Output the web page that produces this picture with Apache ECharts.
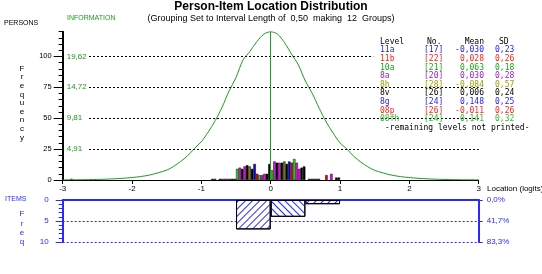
<!DOCTYPE html>
<html><head><meta charset="utf-8">
<script src="https://cdn.jsdelivr.net/npm/echarts@6/dist/echarts.min.js"></script>
<style>html,body{margin:0;padding:0;background:#fff}#c{width:542px;height:274px}</style>
</head><body><div id="c"></div>
<script>
// ---- data ----
const intervalStarts = ['-3','-2.5','-2','-1.5','-1','-0.5','0','0.5','1','1.5','2','2.5'];
const barColors = ['#00ff00','#ff00ff','#000000','#ff00ff','#000000','#808000','#000000','#0000ff','#ff0000','#00ff00','#ff00ff','#ff00ff','#000000','#000000'];
// person frequency: rows = intervals, cols = class levels (14 bars per interval)
const personFreq = [
  [0,0,0,1,0,0,0,0,0,0,0,0,0,0],
  [0,0,0,0,0,0,0,0,0,0,0,0,0,0],
  [0,0,0,0,0,0,0,0,0,0,0,0,0,0],
  [0,0,0,0,0,0,0,0,0,0,0,0,0,0],
  [0,0,0,0,1,1,0,1,1,1,1,1,1,1],
  [9,10,9,11,12,11,9,13,5,4,4,5,5,13],
  [8,15,14,14,14,15,13,15,14,17,14,9,10,11],
  [0,1,1,1,1,1,0,0,4,0,5,0,2,2],
  [0,0,0,0,0,0,0,0,0,0,0,0,0,0],
  [0,0,0,0,0,0,0,0,0,0,0,0,0,0],
  [0,0,0,0,0,0,0,0,0,0,0,0,0,0],
  [0,0,0,0,0,0,0,0,0,0,0,0,0,0]
];
const itemFreq = [0,0,0,0,0,7,4,1,0,0,0,0];
const infoX = [-3,-2.75,-2.5,-2.25,-2,-1.75,-1.5,-1.4,-1.3,-1.2,-1.1,-1,-0.9,-0.8,-0.7,-0.6,-0.5,-0.4,-0.3,-0.2,-0.1,0,0.1,0.2,0.3,0.4,0.5,0.6,0.7,0.8,0.9,1,1.1,1.2,1.3,1.4,1.5,1.75,2,2.25,2.5,2.75,3];
const infoVals = [0.02,0.04,0.09,0.20,0.39,0.78,1.57,2.16,2.94,3.83,5.00,6.08,7.65,9.42,11.58,14.13,16.28,19.03,20.4,21.97,23.15,23.54,23.15,21.8,20.0,18.25,15.70,13.73,11.38,9.22,7.46,5.89,4.91,3.73,2.85,2.10,1.53,0.76,0.38,0.19,0.09,0.04,0.02];
const freqTicks = [0,25,50,75,100];
const infoTicks = [4.91,9.81,14.72,19.62];
const itemTicks = [0,5,10];
const pctLabels = ['0,0%','41,7%','83,3%'];
const levelNames = ['11a','11b','10a','8a','8h','8v','8g','08p','08fh'];
const levelNo = [17,22,21,20,28,26,24,26,24];
const levelMean = [-0.030,0.028,0.063,0.030,-0.084,0.006,0.148,-0.011,0.141];
const levelSD = [0.23,0.26,0.18,0.28,0.57,0.24,0.25,0.26,0.32];
const levelTextColors = ['#1a1aff','#ff2020','#10b010','#a020c0','#a0a000','#000000','#1a1aff','#ff2020','#30c030'];

// ---- chart ----
const freqMax = 120;
const infoMax = infoTicks[3] * freqMax / 100;
const comma = (v, d) => v.toFixed(d).replace('.', ',');
const GREEN = '#1f9a1f';
const BLUE = '#2a2aff';
const mono = 'DejaVu Sans Mono';
const sans = 'Liberation Sans';

const series = [];
for (let l = 0; l < barColors.length; l++) {
  series.push({
    type: 'bar', xAxisIndex: 1, yAxisIndex: 0,
    barGap: '0%', barCategoryGap: '0%', silent: true,
    itemStyle: { color: barColors[l], borderColor: '#000', borderWidth: 0.5 },
    data: personFreq.map(r => r[l] === 0 ? '-' : r[l])
  });
}
const dash = { color: '#000', width: 1, type: [2, 2] };
series.push({
  type: 'line', xAxisIndex: 0, yAxisIndex: 2, smooth: 0.3, symbol: 'none', silent: true,
  lineStyle: { color: GREEN, width: 1 },
  data: infoX.map((x, i) => [x, infoVals[i]]),
  markLine: {
    symbol: 'none', silent: true, label: { show: false }, animation: false,
    data: [
      [{ coord: [-2.62, infoTicks[0]], lineStyle: dash }, { coord: [3, infoTicks[0]] }],
      [{ coord: [-2.62, infoTicks[1]], lineStyle: dash }, { coord: [3, infoTicks[1]] }],
      [{ coord: [-2.62, infoTicks[2]], lineStyle: dash }, { coord: [3, infoTicks[2]] }],
      [{ coord: [-2.62, infoTicks[3]], lineStyle: dash }, { coord: [1.48, infoTicks[3]] }],
      [{ coord: [0, 0], lineStyle: { color: GREEN, width: 1, type: 'solid' } }, { coord: [0, infoMax] }]
    ]
  }
});
const hatch = (rot) => ({ symbol: 'rect', symbolSize: 1, dashArrayX: [1, 0], dashArrayY: [1, 3.5], rotation: rot, color: BLUE });
const hatchRot = [-Math.PI / 4, Math.PI / 4];
let k = 0;
series.push({
  type: 'bar', xAxisIndex: 3, yAxisIndex: 3, barCategoryGap: '0%', silent: true,
  data: itemFreq.map(v => {
    if (v === 0) return '-';
    const r = hatchRot[(k++) % 2];
    return { value: v, itemStyle: { color: '#fff', borderColor: '#000', borderWidth: 1, decal: hatch(r) } };
  })
});

const graphics = [];
const txt = (x, y, text, o) => graphics.push({ type: 'text', x, y, silent: true, z: 100,
  style: Object.assign({ text, fill: '#000', font: '8px ' + sans, textAlign: 'left', textVerticalAlign: 'middle' }, o) });
txt(271, 7, 'Person-Item Location Distribution', { textAlign: 'center', font: 'bold 12px ' + sans });
txt(271, 19, '(Grouping Set to Interval Length of  0,50  making  12  Groups)', { textAlign: 'center', font: '9px ' + sans });
txt(4, 23, 'PERSONS', { font: '7px ' + sans });
txt(67, 18, 'INFORMATION', { font: '7px ' + sans, fill: GREEN });
txt(22, 103, 'F\nr\ne\nq\nu\ne\nn\nc\ny', { textAlign: 'center', font: '8px ' + sans, lineHeight: 8.6 });
txt(5, 199, 'ITEMS', { font: '7px ' + sans, fill: BLUE });
txt(22, 228, 'F\nr\ne\nq', { textAlign: 'center', font: '8px ' + sans, lineHeight: 9.2, fill: BLUE });
txt(487, 189, 'Location (logits)', { font: '8px ' + sans });
// legend table
const row0 = 41.7, rowH = 8.6;
const mf = '8px ' + mono;
txt(380, row0, 'Level', { font: mf });
txt(427, row0, 'No.', { font: mf });
txt(484, row0, 'Mean', { font: mf, textAlign: 'right' });
txt(499, row0, 'SD', { font: mf });
levelNames.forEach((n, i) => {
  const y = row0 + rowH * (i + 1), c = levelTextColors[i];
  txt(380, y, n, { font: mf, fill: c });
  txt(424, y, '[' + levelNo[i] + ']', { font: mf, fill: c });
  txt(484, y, comma(levelMean[i], 3), { font: mf, fill: c, textAlign: 'right' });
  txt(495, y, comma(levelSD[i], 2), { font: mf, fill: c });
});
txt(385, row0 + rowH * 10, '-remaining levels not printed-', { font: mf });

const option = {
  animation: false,
  grid: [
    { left: 62.7, top: 31.7, width: 416, height: 148.3 },
    { left: 62.7, top: 200, width: 416, height: 42 }
  ],
  xAxis: [
    { type: 'value', gridIndex: 0, min: -3, max: 3, interval: 1, position: 'bottom',
      axisLine: { onZero: false, lineStyle: { color: '#000', width: 1 } },
      axisTick: { length: 4, lineStyle: { color: '#000' } },
      axisLabel: { color: '#000', fontSize: 8, fontFamily: sans, margin: 5 },
      splitLine: { show: false } },
    { type: 'category', gridIndex: 0, data: intervalStarts, show: false },
    { type: 'value', gridIndex: 1, min: -3, max: 3, interval: 1, position: 'top',
      axisLine: { onZero: false, lineStyle: { color: BLUE, width: 2 } },
      axisTick: { show: false }, axisLabel: { show: false }, splitLine: { show: false } },
    { type: 'category', gridIndex: 1, data: intervalStarts, show: false }
  ],
  yAxis: [
    { type: 'value', gridIndex: 0, min: 0, max: freqMax, position: 'left',
      axisLine: { show: true, onZero: false, lineStyle: { color: '#000', width: 2 } },
      axisTick: { show: true, length: 9, customValues: freqTicks, lineStyle: { color: '#000' } },
      axisLabel: { customValues: freqTicks, color: '#000', fontSize: 7.5, fontFamily: sans, margin: 11 },
      splitLine: { show: false } },
    { type: 'value', gridIndex: 0, min: 0, max: freqMax, interval: 5, position: 'left',
      axisLine: { show: false, onZero: false }, axisTick: { show: true, length: 4, lineStyle: { color: '#000' } },
      axisLabel: { show: false }, splitLine: { show: false } },
    { type: 'value', gridIndex: 0, min: 0, max: infoMax, position: 'left',
      axisLine: { show: false, onZero: false }, axisTick: { show: false },
      axisLabel: { inside: true, customValues: infoTicks, formatter: v => comma(v, 2), color: GREEN, fontSize: 8, fontFamily: sans, margin: 4 },
      splitLine: { show: false } },
    { type: 'value', gridIndex: 1, min: 0, max: 10, interval: 5, inverse: true, position: 'left',
      axisLine: { show: true, onZero: false, lineStyle: { color: BLUE, width: 2 } },
      axisTick: { show: true, length: 7, lineStyle: { color: BLUE } },
      minorTick: { show: true, splitNumber: 5, length: 4, lineStyle: { color: BLUE } },
      axisLabel: { color: BLUE, fontSize: 8, fontFamily: sans, margin: 14 },
      splitLine: { show: true, showMinLine: false, lineStyle: { color: BLUE, width: 1, type: [2, 2] } } },
    { type: 'value', gridIndex: 1, min: 0, max: 10, interval: 5, inverse: true, position: 'right',
      axisLine: { show: true, onZero: false, lineStyle: { color: BLUE, width: 2 } },
      axisTick: { show: true, length: 4, lineStyle: { color: BLUE } },
      axisLabel: { formatter: v => pctLabels[itemTicks.indexOf(v)], color: BLUE, fontSize: 8, fontFamily: sans, margin: 8 },
      splitLine: { show: false } }
  ],
  series,
  graphic: graphics
};
echarts.init(document.getElementById('c'), null, { renderer: 'canvas' }).setOption(option);
</script></body></html>
